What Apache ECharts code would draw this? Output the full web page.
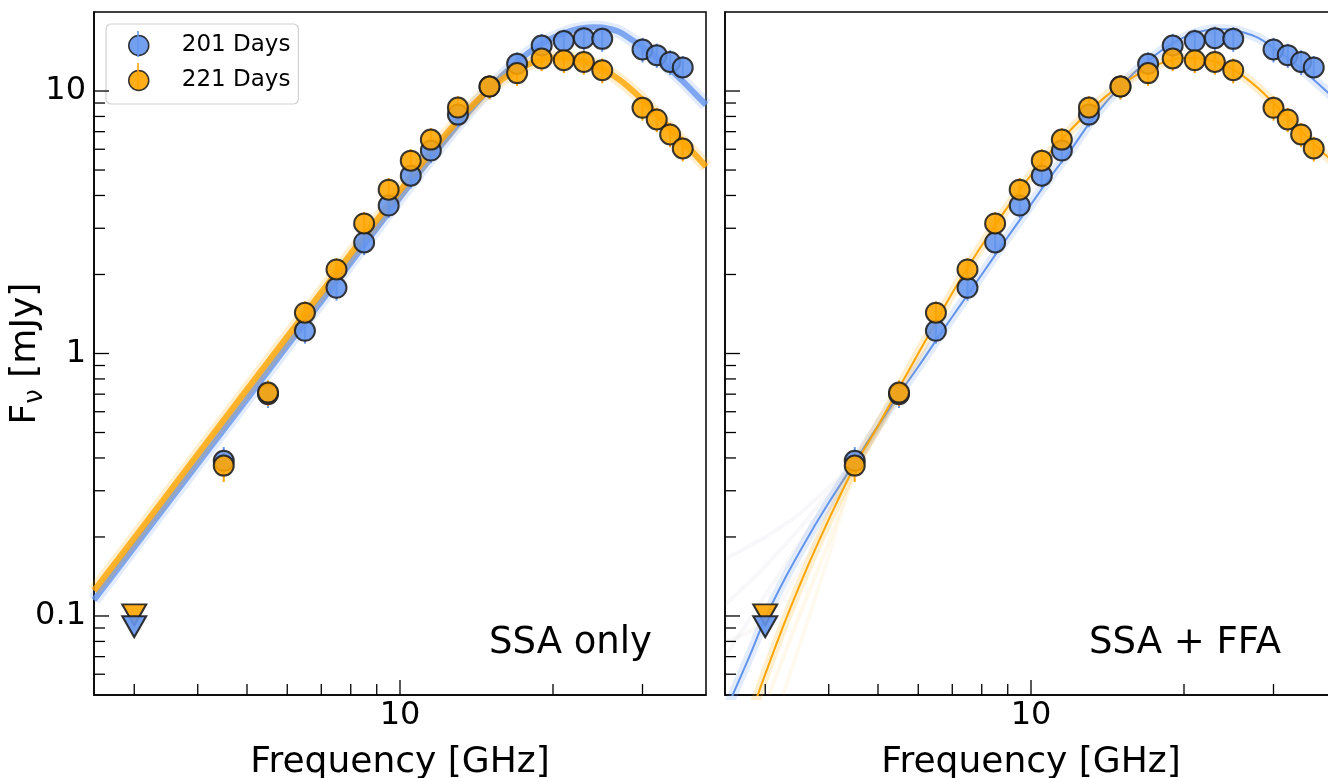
<!DOCTYPE html>
<html><head><meta charset="utf-8">
<script src="https://cdn.jsdelivr.net/npm/echarts@6/dist/echarts.min.js"></script>
<style>html,body{margin:0;padding:0;background:#fff;overflow:hidden}#c{width:1328px;height:778px}</style>
</head><body><div id="c"></div><script>
// ---------- data ----------
const freqGHz = [4.5,5.5,6.5,7.5,8.5,9.5,10.5,11.5,13,15,17,19,21,23,25,30,32,34,36];
const flux201 = [0.39,0.70,1.22,1.78,2.65,3.66,4.76,5.93,8.13,10.4,12.7,14.9,15.5,15.9,15.8,14.4,13.7,12.9,12.3];
const flux221 = [0.374,0.71,1.43,2.09,3.13,4.21,5.43,6.53,8.65,10.4,11.7,13.3,13.1,12.9,12.0,8.63,7.79,6.83,6.04];
const err201 = [0.05,0.08,0.13,0.19,0.28,0.38,0.5,0.62,0.85,1.1,1.35,1.6,1.65,1.7,1.7,1.55,1.45,1.4,1.3];
const err221 = [0.05,0.08,0.15,0.22,0.33,0.45,0.57,0.69,0.9,1.1,1.25,1.4,1.4,1.35,1.3,0.92,0.83,0.73,0.65];
const limFreq = [3];
const lim201 = [0.091];
const lim221 = [0.101];

// SSA-only model (left panel)
const ssaFreq = [2.5,3,4,5,6,7,8,9,10,11,12,13,14,15,16,17,18,19,20,21,22,23,24,25,26,27,28,30,32,34,36,38,40];
const ssa201 = [0.115,0.183,0.38,0.67,1.07,1.58,2.22,3.0,3.93,4.98,6.15,7.45,8.8,10.2,11.6,12.9,14.1,15.1,15.95,16.6,17.1,17.4,17.5,17.45,17.2,16.8,16.1,14.7,13.4,12.1,10.9,9.8,8.85];
const ssa221 = [0.125,0.198,0.413,0.73,1.16,1.71,2.4,3.22,4.18,5.25,6.45,7.7,8.95,10.15,11.2,12.05,12.7,13.15,13.4,13.45,13.35,13.05,12.65,12.15,11.6,11.05,10.45,9.25,8.15,7.2,6.4,5.75,5.15];

// SSA + FFA model (right panel)
const ffaFreq = [2.5,2.6,2.8,3,3.3,3.67,4,4.5,5,5.5,6,6.5,7,7.5,8,8.5,9,9.5,10,11,12,13,14,15,16,17,18,19,20,21,22,23,24,25,26,28,30,32,34,36,38,40];
const ffa201 = [0.043,0.051,0.071,0.098,0.142,0.205,0.27,0.385,0.53,0.70,0.89,1.12,1.38,1.67,2.0,2.37,2.78,3.22,3.7,4.8,6.0,7.5,9.0,10.4,11.8,13.0,14.2,15.2,16.0,16.6,17.0,17.2,17.2,17.05,16.8,15.95,14.6,13.35,12.15,11.05,10.05,9.15];
const ffa221 = [0.0204,0.026,0.041,0.060,0.098,0.161,0.233,0.373,0.53,0.74,1.0,1.32,1.7,2.12,2.58,3.08,3.62,4.18,4.78,5.95,7.15,8.35,9.5,10.5,11.4,12.15,12.75,13.15,13.35,13.35,13.2,12.95,12.55,12.05,11.5,10.25,9.0,7.95,7.05,6.3,5.7,5.2];

// faint posterior sample curves at low frequency (right panel)
const fanFreq = [2.5,3,3.5,4,4.5,5.5];
const fan201a = [0.165,0.2,0.245,0.31,0.39,0.70];
const fan201b = [0.11,0.155,0.215,0.295,0.385,0.70];
const fan201c = [0.07,0.12,0.19,0.28,0.385,0.70];
const fan221a = [0.08,0.095,0.15,0.24,0.37,0.71];
const fanFreq221b = [3.05,3.5,4,4.5,5.5];
const fan221b = [0.05,0.1,0.19,0.35,0.70];
const fanFreq221c = [3.25,3.6,4,4.5,5.5];
const fan221c = [0.05,0.09,0.17,0.34,0.70];

// axes
const X_MIN = 2.5, X_MAX = 40, Y_MIN = 0.05, Y_MAX = 20;
const xTickValues = [10];
const xTickLabels = ['10'];
const xMinorTicks = [3,4,5,6,7,8,9,20,30];
const yTickValues = [0.1,1,10];
const yTickLabels = ['0.1','1','10'];
const yMinorTicks = [0.06,0.07,0.08,0.09,0.2,0.3,0.4,0.5,0.6,0.7,0.8,0.9,2,3,4,5,6,7,8,9];
const seriesNames = ['201 Days','221 Days'];
const panelTitles = ['SSA only','SSA + FFA'];

// ---------- style ----------
const FONT = 'DejaVu Sans';
const BLUE = '#6495ED', ORANGE = '#FFA500', EDGE = '#1e1e1e';
const MAJOR_LEN = 15, MINOR_LEN = 11;

const zip = (a, b) => a.map((v, i) => [v, b[i]]);
function labelFn(vals, labs) {
  return function (v) {
    for (let i = 0; i < vals.length; i++) if (Math.abs(v - vals[i]) / vals[i] < 1e-6) return labs[i];
    return '';
  };
}
function tickData() {
  const d = [];
  xTickValues.forEach(v => d.push([v, Y_MIN, 0, MAJOR_LEN]));
  xMinorTicks.forEach(v => d.push([v, Y_MIN, 0, MINOR_LEN]));
  yTickValues.forEach(v => d.push([X_MIN, v, 1, MAJOR_LEN]));
  yMinorTicks.forEach(v => d.push([X_MIN, v, 1, MINOR_LEN]));
  return d;
}
function renderTick(params, api) {
  const p = api.coord([api.value(0), api.value(1)]);
  const len = api.value(3);
  const shape = api.value(2) === 0
    ? { x1: p[0], y1: p[1], x2: p[0], y2: p[1] - len }
    : { x1: p[0], y1: p[1], x2: p[0] + len, y2: p[1] };
  return { type: 'line', shape: shape, style: { stroke: '#000', lineWidth: 1.3 } };
}
function errData(ys, es) { return freqGHz.map((f, i) => [f, ys[i], ys[i] - es[i], ys[i] + es[i]]); }
function renderErr(color) {
  return function (params, api) {
    const lo = api.coord([api.value(0), api.value(2)]);
    const hi = api.coord([api.value(0), api.value(3)]);
    return { type: 'line', shape: { x1: lo[0], y1: lo[1], x2: hi[0], y2: hi[1] }, style: { stroke: color, lineWidth: 2 } };
  };
}

const grids = [
  { left: 94, top: 12, width: 612, height: 683, show: true, borderColor: '#000', borderWidth: 1.5, containLabel: false, outerBoundsMode: 'none' },
  { left: 725, top: 12, width: 612, height: 683, show: true, borderColor: '#000', borderWidth: 1.5, containLabel: false, outerBoundsMode: 'none' }
];
function mkX(g) {
  return {
    type: 'log', logBase: 10, gridIndex: g, min: X_MIN, max: X_MAX,
    name: 'Frequency [GHz]', nameLocation: 'middle', nameGap: 50, nameMoveOverlap: false,
    nameTextStyle: { fontFamily: FONT, fontSize: 36, color: '#000' },
    axisLine: { show: true, onZero: false, lineStyle: { color: '#000', width: 1.5 } },
    axisTick: { show: false }, splitLine: { show: false }, minorTick: { show: false },
    axisLabel: { formatter: labelFn(xTickValues, xTickLabels), fontFamily: FONT, fontSize: 32, color: '#000', margin: 5 }
  };
}
function mkY(g) {
  return {
    type: 'log', logBase: 10, gridIndex: g, min: Y_MIN, max: Y_MAX,
    name: g === 0 ? '{f|F}{s|ν}{f| [mJy]}' : '', nameLocation: 'middle', nameGap: 46, nameRotate: 90, nameMoveOverlap: false,
    nameTextStyle: { color: '#000', rich: {
      f: { fontFamily: FONT, fontSize: 36, color: '#000', lineHeight: 44 },
      s: { fontFamily: FONT, fontSize: 26, color: '#000', lineHeight: 26, verticalAlign: 'bottom' } } },
    axisLine: { show: true, onZero: false, lineStyle: { color: '#000', width: 1.5 } },
    axisTick: { show: false }, splitLine: { show: false }, minorTick: { show: false },
    axisLabel: { show: g === 0, formatter: labelFn(yTickValues, yTickLabels), fontFamily: FONT, fontSize: 32, color: '#000', margin: 8 }
  };
}

function lineS(g, name, data, color, width, opacity, z) {
  return { type: 'line', name: name, xAxisIndex: g, yAxisIndex: g, data: data, smooth: 0.35,
    showSymbol: false, symbol: 'none', silent: true, clip: true, z: z,
    lineStyle: { color: color, width: width, opacity: opacity } };
}
function scatterS(g, name, data, color, z) {
  return { type: 'scatter', name: name, xAxisIndex: g, yAxisIndex: g, data: data, symbol: 'circle', symbolSize: 20, z: z,
    itemStyle: { color: color, opacity: 0.88, borderColor: EDGE, borderWidth: 2 } };
}
function limitS(g, name, data, color, z) {
  return { type: 'scatter', name: name, xAxisIndex: g, yAxisIndex: g, data: data, symbol: 'triangle', symbolRotate: 180,
    symbolSize: [24, 21], z: z, itemStyle: { color: color, opacity: 0.9, borderColor: EDGE, borderWidth: 2 } };
}

const series = [];
// left panel bands
series.push(lineS(0, 'ssa201-halo', zip(ssaFreq, ssa201), BLUE, 13, 0.18, 2));
series.push(lineS(0, 'ssa201', zip(ssaFreq, ssa201), BLUE, 6, 0.8, 3));
series.push(lineS(0, 'ssa221-halo', zip(ssaFreq, ssa221), ORANGE, 13, 0.18, 4));
series.push(lineS(0, 'ssa221', zip(ssaFreq, ssa221), ORANGE, 6, 0.8, 5));
// right panel fans & model
[fan201a, fan201b, fan201c].forEach((f, i) => series.push(lineS(1, 'fan201' + i, zip(fanFreq, f), '#8090b0', 4, 0.06, 2)));
series.push(lineS(1, 'fan221a', zip(fanFreq, fan221a), '#b0a090', 4, 0.06, 2));
series.push(lineS(1, 'fan221b', zip(fanFreq221b, fan221b), ORANGE, 4, 0.08, 2));
series.push(lineS(1, 'fan221c', zip(fanFreq221c, fan221c), ORANGE, 4, 0.06, 2));
series.push(lineS(1, 'ffa201-halo', zip(ffaFreq, ffa201), BLUE, 10, 0.18, 3));
series.push(lineS(1, 'ffa201', zip(ffaFreq, ffa201), BLUE, 2, 1, 4));
series.push(lineS(1, 'ffa221-halo', zip(ffaFreq, ffa221), ORANGE, 10, 0.18, 5));
series.push(lineS(1, 'ffa221', zip(ffaFreq, ffa221), ORANGE, 2, 1, 6));
// data points in both panels
[0, 1].forEach(g => {
  series.push({ type: 'custom', name: 'err201-' + g, xAxisIndex: g, yAxisIndex: g, data: errData(flux201, err201),
    renderItem: renderErr(BLUE), silent: true, z: 8, encode: { x: 0, y: 1 } });
  series.push({ type: 'custom', name: 'err221-' + g, xAxisIndex: g, yAxisIndex: g, data: errData(flux221, err221),
    renderItem: renderErr(ORANGE), silent: true, z: 9, encode: { x: 0, y: 1 } });
  series.push(limitS(g, seriesNames[1], zip(limFreq, lim221), ORANGE, 10));
  series.push(limitS(g, seriesNames[0], zip(limFreq, lim201), BLUE, 11));
  series.push(scatterS(g, seriesNames[0], zip(freqGHz, flux201), BLUE, 12));
  series.push(scatterS(g, seriesNames[1], zip(freqGHz, flux221), ORANGE, 13));
  series.push({ type: 'custom', name: 'ticks' + g, xAxisIndex: g, yAxisIndex: g, data: tickData(),
    renderItem: renderTick, silent: true, clip: false, z: 20, encode: { x: 0, y: 1 } });
});

const chart = echarts.init(document.getElementById('c'), null, { width: 1328, height: 778 });
chart.setOption({
  animation: false,
  backgroundColor: '#fff',
  grid: grids,
  xAxis: [mkX(0), mkX(1)],
  yAxis: [mkY(0), mkY(1)],
  legend: {
    left: 106, top: 24, orient: 'vertical', itemWidth: 20, itemHeight: 20, itemGap: 12,
    padding: [10, 8, 12, 22], backgroundColor: 'rgba(255,255,255,0.8)', borderColor: '#d0d0d0', borderWidth: 1.2, borderRadius: 5,
    textStyle: { fontFamily: FONT, fontSize: 23, color: '#000', padding: [0, 0, 0, 28] },
    data: [
      { name: seriesNames[0], icon: 'circle', itemStyle: { color: BLUE, borderColor: EDGE, borderWidth: 1.5 } },
      { name: seriesNames[1], icon: 'circle', itemStyle: { color: ORANGE, borderColor: EDGE, borderWidth: 1.5 } }
    ]
  },
  graphic: [
    { type: 'line', z: 30, silent: true, shape: { x1: 138, y1: 31, x2: 138, y2: 57 }, style: { stroke: BLUE, lineWidth: 2, opacity: 0.8 } },
    { type: 'line', z: 30, silent: true, shape: { x1: 138, y1: 63, x2: 138, y2: 89 }, style: { stroke: ORANGE, lineWidth: 2, opacity: 0.8 } },
    { type: 'text', x: 652, y: 643, z: 30, style: { text: panelTitles[0], align: 'right', verticalAlign: 'middle', font: '37px "DejaVu Sans"', fill: '#000' } },
    { type: 'text', x: 1281, y: 643, z: 30, style: { text: panelTitles[1], align: 'right', verticalAlign: 'middle', font: '37px "DejaVu Sans"', fill: '#000' } }
  ],
  series: series
});
</script></body></html>
